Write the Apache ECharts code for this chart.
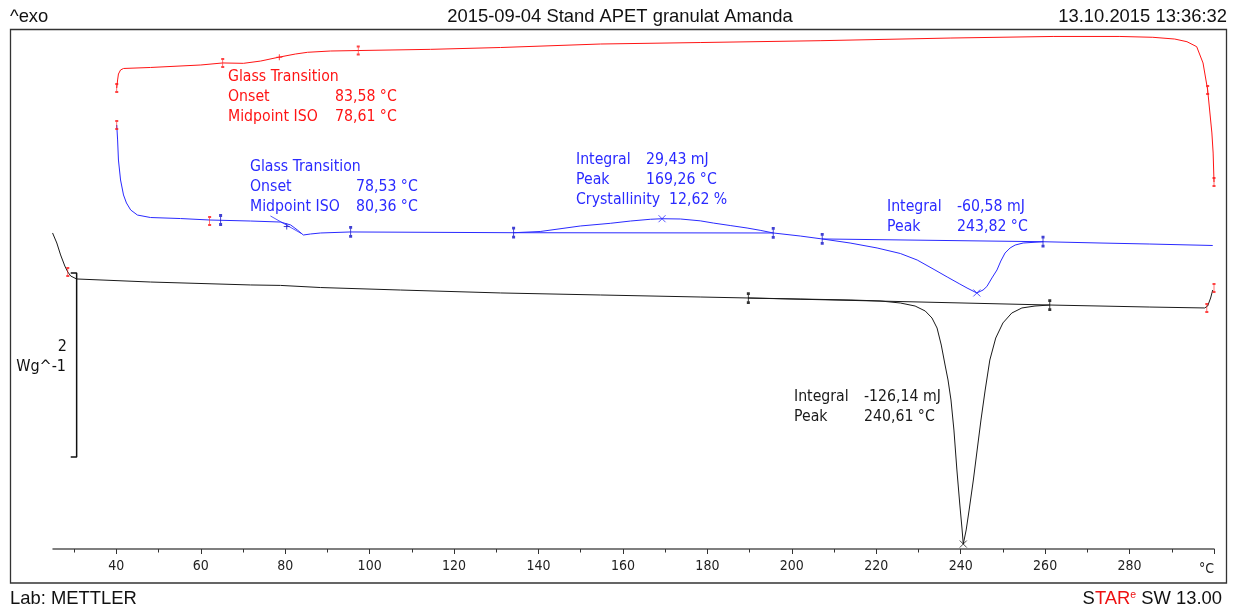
<!DOCTYPE html>
<html>
<head>
<meta charset="utf-8">
<script src="https://cdn.jsdelivr.net/npm/echarts@6/dist/echarts.min.js"></script>
<style>
  html, body { margin: 0; padding: 0; background: #fff; }
  #chart { width: 1240px; height: 611px; }
</style>
</head>
<body>
<div id="chart"></div>
<script>
// DSC run of APET granulate: temperature in °C, heat flow in W/g (curves offset vertically)

// 1st heating (black)
const firstHeatT = [24.9,25.9,26.8,27.8,28.5,29.2,30.6,48.1,71.8,78.9,88.4,107.3,131.0,154.7,178.3,190.1,202.0,213.8,220.9,225.7,229.2,231.6,233.2,234.4,235.4,236.3,237.0,237.7,238.4,239.1,239.8,240.3,240.61,241.3,242.0,243.0,243.9,244.8,245.8,246.9,248.3,250.0,252.1,254.5,257.6,261.1,273.0,284.8,297.8,298.5,299.2,299.7];
const firstHeatW = [3.435,3.326,3.196,3.076,3.011,2.967,2.935,2.902,2.870,2.865,2.842,2.815,2.783,2.761,2.739,2.728,2.717,2.707,2.696,2.674,2.641,2.587,2.511,2.402,2.217,2.0,1.837,1.620,1.293,0.859,0.478,0.228,0.054,0.207,0.424,0.750,1.076,1.402,1.728,2.054,2.293,2.457,2.565,2.620,2.641,2.652,2.641,2.630,2.620,2.641,2.728,2.815];

// 2nd heating (blue)
const secondHeatT = [40.1,40.3,40.5,41.0,41.7,42.4,43.4,45.0,48.1,55.2,62.1,71.8,78.9,81.3,82.9,84.3,86.0,88.4,95.5,134.1,140.4,149.9,157.0,161.8,166.5,169.26,173.6,178.3,181.4,185.4,189.4,192.5,195.6,202.0,207.2,213.8,220.2,225.7,229.7,233.9,236.8,239.8,241.5,243.82,245.3,246.2,247.4,248.6,249.5,250.5,251.7,252.9,254.8,259.5,273.0,284.8,299.7];
const secondHeatW = [4.609,4.446,4.228,4.011,3.848,3.761,3.685,3.630,3.603,3.592,3.576,3.565,3.554,3.522,3.467,3.413,3.424,3.435,3.446,3.438,3.451,3.511,3.540,3.565,3.584,3.590,3.587,3.567,3.543,3.516,3.489,3.464,3.435,3.402,3.370,3.326,3.272,3.212,3.141,3.033,2.957,2.880,2.837,2.783,2.815,2.853,2.946,3.033,3.130,3.217,3.272,3.304,3.326,3.340,3.326,3.315,3.299];

// cooling (red)
const coolingT = [40.1,40.3,40.5,41.0,41.7,48.1,60.0,65.2,70.1,74.2,78.4,82.4,85.3,90.7,97.3,114.4,131.0,154.7,178.3,206.7,237.5,261.9,277.7,285.5,290.7,293.6,295.9,297.4,298.5,299.5,299.8,300.0];
const coolingW = [5.011,5.098,5.163,5.207,5.223,5.234,5.261,5.283,5.279,5.304,5.345,5.380,5.399,5.413,5.418,5.431,5.451,5.489,5.505,5.525,5.554,5.571,5.571,5.562,5.543,5.514,5.460,5.283,4.989,4.522,4.304,3.989];

// integration baselines [T1, W1, T2, W2]
const crystBaseline = [134.1, 3.438, 195.6, 3.435];
const melt2Baseline = [207.2, 3.370, 259.5, 3.340];
const melt1Baseline = [189.7, 2.728, 261.1, 2.652];
const blueTgTangent = [76.5, 3.62, 83.8, 3.43];

// evaluation results
const coolTg = [83.58, 78.61];          // onset, midpoint ISO
const heat2Tg = [78.53, 80.36];         // onset, midpoint ISO
const crystResult = [29.43, 169.26, 12.62]; // integral mJ, peak °C, crystallinity %
const melt2Result = [-60.58, 243.82];   // integral mJ, peak °C
const melt1Result = [-126.14, 240.61];  // integral mJ, peak °C

// heat flow at the evaluated peaks / midpoints
const peakW = [3.590, 2.783, 0.054];    // crystallization, 2nd melt, 1st melt
const midpointW = [5.345, 3.505];       // cooling Tg, 2nd heating Tg

// evaluation limit marks
const redLimits = [[40.1,5.011],[40.1,4.609],[24.9,3.435],[28.5,3.011],[65.2,5.283],[97.3,5.418],[62.1,3.565],[298.5,4.989],[300,3.989],[298.3,2.620],[300,2.837]];
const blueLimits = [[64.7,3.576],[95.5,3.446],[134.1,3.438],[195.6,3.435],[207.2,3.370],[259.5,3.340]];
const blackLimits = [[189.7,2.728],[261.1,2.652]];

// 2 W/g scale bar
const scaleBarT = [29.2, 30.6];
const scaleBarW = [1.0, 3.0];

// axis ticks
const majorTicks = [40,60,80,100,120,140,160,180,200,220,240,260,280,300];
const minorTicks = [30,50,70,90,110,130,150,170,190,210,230,250,270,290];
const tickLabels = [40,60,80,100,120,140,160,180,200,220,240,260,280];

const zip = (a, b) => a.map((v, i) => [v, b[i]]);
const fmt = v => v.toFixed(2).replace('.', ',');

const RED = '#ff1414';
const BLUE = '#2a2aff';
const BLACK = '#1a1a1a';
const ANNO_FONT = "'DejaVu Sans Condensed', 'Noto Sans', sans-serif";
const HEAD_FONT = "'Liberation Sans', Arial, sans-serif";
const ANNO_SIZE = 15.7;
const HEAD_SIZE = 18.4;

const chart = echarts.init(document.getElementById('chart'), null, { renderer: 'canvas' });

function seg(arr, color, width) {
  return {
    type: 'line', data: [[arr[0], arr[1]], [arr[2], arr[3]]],
    symbol: 'none', silent: true,
    lineStyle: { color: color, width: width || 1 }, z: 2
  };
}

const bracketPath = 'path://M0,0L3,0M1.5,0L1.5,9M0,9L3,9';
const crossPath = 'path://M0,0L10,10M10,0L0,10';
const plusPath = 'path://M5,0L5,10M0,5L10,5';

function marks(data, color, symbol, size, bw) {
  return {
    type: 'scatter', data: data, symbol: symbol, symbolSize: size, silent: true,
    itemStyle: { color: 'transparent', borderColor: color, borderWidth: bw || 1.2 }, z: 4
  };
}

// text blocks: rows of [label, value, optional value x]
const texts = [];
function block(rows, x1, x2, y0, color) {
  rows.forEach((r, i) => {
    const y = y0 + i * 20;
    texts.push({ type: 'text', x: x1, y: y, silent: true,
      style: { text: r[0], fill: color, font: ANNO_SIZE + 'px ' + ANNO_FONT, align: 'left', verticalAlign: 'middle' } });
    if (r[1] !== undefined) {
      texts.push({ type: 'text', x: r[2] || x2, y: y, silent: true,
        style: { text: r[1], fill: color, font: ANNO_SIZE + 'px ' + ANNO_FONT, align: 'left', verticalAlign: 'middle' } });
    }
  });
}
block([['Glass Transition'], ['Onset', fmt(coolTg[0]) + ' °C'], ['Midpoint ISO', fmt(coolTg[1]) + ' °C']], 228, 335, 77, RED);
block([['Glass Transition'], ['Onset', fmt(heat2Tg[0]) + ' °C'], ['Midpoint ISO', fmt(heat2Tg[1]) + ' °C']], 250, 356, 167, BLUE);
block([['Integral', fmt(crystResult[0]) + ' mJ'], ['Peak', fmt(crystResult[1]) + ' °C'], ['Crystallinity', fmt(crystResult[2]) + ' %', 669]], 576, 646, 160, BLUE);
block([['Integral', fmt(melt2Result[0]) + ' mJ'], ['Peak', fmt(melt2Result[1]) + ' °C']], 887, 957, 207, BLUE);
block([['Integral', fmt(melt1Result[0]) + ' mJ'], ['Peak', fmt(melt1Result[1]) + ' °C']], 794, 864, 397, BLACK);

const option = {
  animation: false,
  backgroundColor: '#fff',
  grid: { left: 53, right: 26, top: 33.8, bottom: 62 },
  xAxis: [
    {
      type: 'value', min: 25, max: 300,
      axisLine: { show: true, lineStyle: { color: '#555', width: 1.5 } },
      axisTick: { show: true, length: 5, customValues: majorTicks, lineStyle: { color: '#333', width: 1 } },
      axisLabel: { show: true, customValues: tickLabels, color: '#222', margin: 10,
        fontSize: 14, fontFamily: ANNO_FONT },
      splitLine: { show: false }
    },
    {
      type: 'value', min: 25, max: 300, position: 'bottom',
      axisLine: { show: false },
      axisTick: { show: true, length: 3.5, customValues: minorTicks, lineStyle: { color: '#333', width: 1 } },
      axisLabel: { show: false },
      splitLine: { show: false }
    }
  ],
  yAxis: { type: 'value', min: 0, max: 5.6, show: false },
  series: [
    { type: 'line', name: '1st heating', data: zip(firstHeatT, firstHeatW), symbol: 'none', silent: true,
      lineStyle: { color: BLACK, width: 1 }, z: 3 },
    { type: 'line', name: '2nd heating', data: zip(secondHeatT, secondHeatW), symbol: 'none', silent: true,
      lineStyle: { color: BLUE, width: 1 }, z: 3 },
    { type: 'line', name: 'cooling', data: zip(coolingT, coolingW), symbol: 'none', silent: true,
      lineStyle: { color: RED, width: 1 }, z: 3 },
    seg(crystBaseline, BLUE, 1),
    seg(melt2Baseline, BLUE, 1),
    seg(melt1Baseline, BLACK, 1),
    seg(blueTgTangent, BLUE, 0.8),
    { type: 'line', data: [[scaleBarT[0], scaleBarW[1]], [scaleBarT[1], scaleBarW[1]], [scaleBarT[1], scaleBarW[0]], [scaleBarT[0], scaleBarW[0]]],
      symbol: 'none', silent: true, lineStyle: { color: '#111', width: 1.5 }, z: 3 },
    marks(redLimits, RED, bracketPath, [3, 8]),
    marks(blueLimits, '#1010c8', bracketPath, [3, 9], 1.6),
    marks(blackLimits, '#000', bracketPath, [3, 9], 1.6),
    marks([[crystResult[1], peakW[0]], [melt2Result[1], peakW[1]]], BLUE, crossPath, 7, 1),
    marks([[melt1Result[1], peakW[2]]], BLACK, crossPath, 7, 1),
    marks([[coolTg[1], midpointW[0]]], RED, plusPath, 6, 1),
    marks([[heat2Tg[1], midpointW[1]]], '#1010c8', plusPath, 6, 1)
  ],
  graphic: [
    { type: 'rect', silent: true, shape: { x: 10.5, y: 29.5, width: 1216, height: 553.5 },
      style: { fill: 'none', stroke: '#333', lineWidth: 1.3 }, z: 0 },
    { type: 'text', x: 10, y: 17, silent: true,
      style: { text: '^exo', fill: '#111', font: HEAD_SIZE + 'px ' + HEAD_FONT, align: 'left', verticalAlign: 'middle' } },
    { type: 'text', x: 620, y: 17, silent: true,
      style: { text: '2015-09-04 Stand APET granulat Amanda', fill: '#111', font: HEAD_SIZE + 'px ' + HEAD_FONT, align: 'center', verticalAlign: 'middle' } },
    { type: 'text', x: 1227, y: 17, silent: true,
      style: { text: '13.10.2015 13:36:32', fill: '#111', font: HEAD_SIZE + 'px ' + HEAD_FONT, align: 'right', verticalAlign: 'middle' } },
    { type: 'text', x: 10, y: 599, silent: true,
      style: { text: 'Lab: METTLER', fill: '#111', font: HEAD_SIZE + 'px ' + HEAD_FONT, align: 'left', verticalAlign: 'middle' } },
    { type: 'text', x: 1222, y: 599, silent: true,
      style: {
        text: '{k|S}{r|TAR}{s|e}{k| SW 13.00}', align: 'right', verticalAlign: 'middle',
        font: HEAD_SIZE + 'px ' + HEAD_FONT,
        rich: {
          k: { fill: '#111', color: '#111', fontSize: HEAD_SIZE, fontFamily: HEAD_FONT },
          r: { fill: '#ee1111', color: '#ee1111', fontSize: HEAD_SIZE, fontFamily: HEAD_FONT },
          s: { fill: '#ee1111', color: '#ee1111', fontSize: 10.5, fontFamily: HEAD_FONT, verticalAlign: 'top' }
        }
      } },
    { type: 'text', x: 1214, y: 569, silent: true,
      style: { text: '°C', fill: '#222', font: '14px ' + ANNO_FONT, align: 'right', verticalAlign: 'middle' } },
    { type: 'text', x: 67, y: 347, silent: true,
      style: { text: '2', fill: '#111', font: '16px ' + ANNO_FONT, align: 'right', verticalAlign: 'middle' } },
    { type: 'text', x: 66, y: 367, silent: true,
      style: { text: 'Wg^-1', fill: '#111', font: '16px ' + ANNO_FONT, align: 'right', verticalAlign: 'middle' } }
  ].concat(texts)
};

chart.setOption(option);
</script>
</body>
</html>
